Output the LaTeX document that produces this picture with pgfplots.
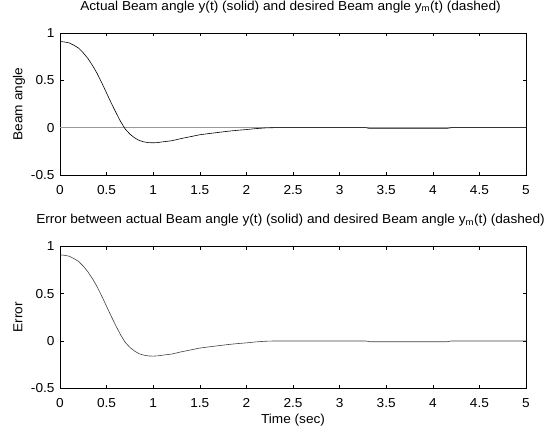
\documentclass[border=0pt]{standalone}
\usepackage{fontspec}
\setmainfont{Liberation Sans}[FakeStretch=1.05]
\usepackage{pgfplots}
\usepackage{pgfplotstable}
\pgfplotsset{compat=1.18}

\pgfplotstableread{
t y
0 0.91
0.05 0.905
0.1 0.895
0.15 0.87
0.2 0.84
0.25 0.79
0.3 0.73
0.35 0.655
0.4 0.57
0.45 0.47
0.5 0.365
0.55 0.26
0.6 0.16
0.65 0.065
0.7 -0.015
0.75 -0.068
0.8 -0.107
0.85 -0.135
0.9 -0.15
0.95 -0.158
1.0 -0.16
1.05 -0.157
1.1 -0.15
1.2 -0.138
1.3 -0.115
1.4 -0.095
1.5 -0.075
1.6 -0.062
1.7 -0.05
1.8 -0.038
1.9 -0.028
2.0 -0.02
2.1 -0.01
2.2 -0.003
2.3 0
3.28 0
3.32 -0.008
4.15 -0.008
4.2 0
5 0
}\beamdata

\pgfplotstableread{
t y
0 0
5 0
}\desired

\begin{document}
\begin{tikzpicture}[x=1bp,y=1bp]
\path[use as bounding box] (0,0) rectangle (550,430);
\pgfplotsset{
  mstyle/.style={
    scale only axis, width=466bp, height=142bp,
    xmin=0, xmax=5, ymin=-0.5, ymax=1,
    xtick={0,0.5,1,1.5,2,2.5,3,3.5,4,4.5,5},
    xticklabels={0,0.5,1,1.5,2,2.5,3,3.5,4,4.5,5},
    ytick={-0.5,0,0.5,1},
    yticklabels={-0.5,0,0.5,1},
    tick align=inside, xtick pos=both, ytick pos=both,
    major tick length=3.5bp,
    tick style={black, line width=0.5bp},
    axis line style={line width=0.6bp},
    ticklabel style={font=\fontsize{13bp}{15bp}\selectfont},
    xticklabel style={anchor=base, yshift=-19bp},
    yticklabel style={anchor=east, xshift=-2bp},
    label style={font=\fontsize{13bp}{15bp}\selectfont},
    title style={font=\fontsize{13bp}{15bp}\selectfont, at={(axis description cs:0.5,1)}, anchor=base, yshift=17bp, xshift=-2.5bp},
    ylabel style={at={(axis description cs:-0.0805,0.5)}, anchor=base},
    xlabel style={at={(axis description cs:0.5,0)}, anchor=base, yshift=-35bp},
  }
}
\begin{axis}[mstyle, at={(60bp,255bp)}, anchor=south west,
  title={Actual Beam angle y(t) (solid) and desired Beam angle y\textsubscript{m}(t) (dashed)},
  ylabel={Beam angle}]
\addplot[color=black!40, line width=0.6bp, no marks] table[x=t,y=y]{\desired};
\addplot[color=black, line width=0.6bp, no marks] table[x=t,y=y]{\beamdata};
\end{axis}
\begin{axis}[mstyle, at={(60bp,41.7bp)}, anchor=south west,
  title={Error between actual Beam angle y(t) (solid) and desired Beam angle y\textsubscript{m}(t) (dashed)},
  ylabel={Error}, xlabel={Time (sec)}]
\addplot[color=black!75, line width=0.6bp, no marks] table[x=t,y=y]{\beamdata};
\end{axis}
\end{tikzpicture}
\end{document}
